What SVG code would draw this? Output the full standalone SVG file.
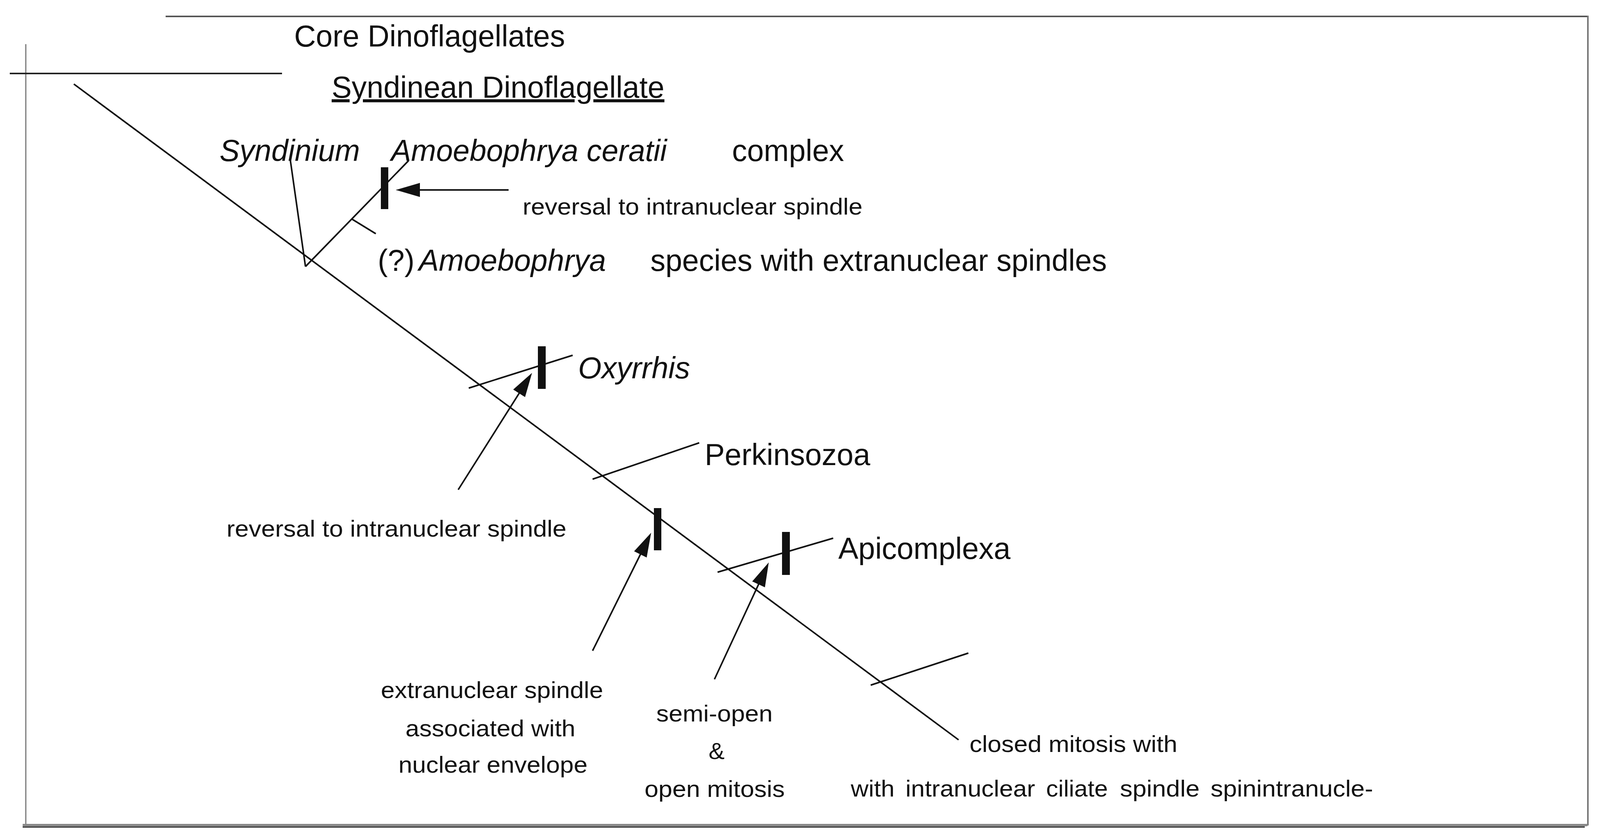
<svg xmlns="http://www.w3.org/2000/svg" width="4098" height="2139" viewBox="0 0 4098 2139">
<style>
.t{font-family:"Liberation Sans",Arial,sans-serif;fill:#111}
.big{font-size:77px}
.it{font-style:italic}
.sm{font-size:59px}
.ln{stroke:#111;stroke-width:4;fill:none;stroke-linecap:butt}
.ar{stroke:#111;stroke-width:4;fill:none;marker-end:url(#ah)}
.bar{fill:#111}
</style>
<defs>
<marker id="ah" markerUnits="userSpaceOnUse" markerWidth="62" markerHeight="38" viewBox="0 -19 62 38" refX="52" refY="0" orient="auto">
<path d="M0,-18 L62,0 L0,18 z" fill="#111"/>
</marker>
</defs>
<rect width="4098" height="2139" fill="#fff"/>
<g id="frame">
<line x1="424" y1="42" x2="4066" y2="42" stroke="#555" stroke-width="4"/>
<line x1="4065" y1="40" x2="4065" y2="2112" stroke="#777" stroke-width="4"/>
<line x1="66" y1="113" x2="66" y2="2110" stroke="#888" stroke-width="3.5"/>
<line x1="58" y1="2111" x2="4064" y2="2111" stroke="#888" stroke-width="6"/>
<line x1="58" y1="2116" x2="4057" y2="2116" stroke="#222" stroke-width="3"/>
<line x1="25" y1="188" x2="722" y2="188" stroke="#222" stroke-width="4"/>
</g>
<g id="connectors">
<line class="ln" x1="189" y1="215" x2="2454" y2="1893"/>
<line class="ln" x1="743" y1="408" x2="782" y2="682"/>
<line class="ln" x1="782" y1="682" x2="1046" y2="411"/>
<line class="ln" x1="900" y1="560" x2="962" y2="598"/>
<line class="ln" x1="1200" y1="993" x2="1466" y2="909"/>
<line class="ln" x1="1517" y1="1226" x2="1790" y2="1133"/>
<line class="ln" x1="1837" y1="1464" x2="2133" y2="1377"/>
<line class="ln" x1="2229" y1="1753" x2="2479" y2="1671"/>
<line class="ar" x1="1302" y1="486" x2="1023" y2="486"/>
<line class="ar" x1="1173" y1="1253" x2="1356.7" y2="962.5"/>
<line class="ar" x1="1517" y1="1665" x2="1662.5" y2="1372"/>
<line class="ar" x1="1829" y1="1738" x2="1963.8" y2="1448.1"/>
</g>
<g id="marks">
<rect id="bar-amoebophrya" class="bar" x="975" y="428" width="19" height="107"/>
<rect id="bar-oxyrrhis" class="bar" x="1377" y="886" width="20" height="109"/>
<rect id="bar-extranuclear" class="bar" x="1674" y="1300" width="19" height="108"/>
<rect id="bar-apicomplexa" class="bar" x="2002" y="1361" width="20" height="110"/>
</g>
<g id="node-core"><text class="t big" x="753" y="119">Core Dinoflagellates</text></g>
<g id="node-syndinean"><text class="t big" x="849" y="250" text-decoration="underline">Syndinean Dinoflagellate</text></g>
<g id="node-syndinium"><text class="t big it" x="562" y="412">Syndinium</text></g>
<g id="node-amoebophrya-ceratii"><text class="t big it" x="1001" y="412">Amoebophrya ceratii</text><text class="t big" x="1874" y="412">complex</text></g>
<g id="label-reversal-top"><text class="t sm" x="1338" y="549" textLength="870" lengthAdjust="spacingAndGlyphs">reversal to intranuclear spindle</text></g>
<g id="node-amoebophrya-sp"><text class="t big" x="967" y="693">(?)</text><text class="t big it" x="1072" y="693">Amoebophrya</text><text class="t big" x="1665" y="693">species with extranuclear spindles</text></g>
<g id="node-oxyrrhis"><text class="t big it" x="1480" y="968">Oxyrrhis</text></g>
<g id="node-perkinsozoa"><text class="t big" x="1804" y="1190">Perkinsozoa</text></g>
<g id="node-apicomplexa"><text class="t big" x="2146" y="1430">Apicomplexa</text></g>
<g id="label-reversal-low"><text class="t sm" x="580" y="1373" textLength="870" lengthAdjust="spacingAndGlyphs">reversal to intranuclear spindle</text></g>
<g id="label-extranuclear">
<text class="t sm" x="975" y="1786" textLength="569" lengthAdjust="spacingAndGlyphs">extranuclear spindle</text>
<text class="t sm" x="1038" y="1884" textLength="435" lengthAdjust="spacingAndGlyphs">associated with</text>
<text class="t sm" x="1020" y="1977" textLength="484" lengthAdjust="spacingAndGlyphs">nuclear envelope</text>
</g>
<g id="label-semiopen">
<text class="t sm" x="1680" y="1846" textLength="298" lengthAdjust="spacingAndGlyphs">semi-open</text>
<text class="t sm" x="1814" y="1942" textLength="41" lengthAdjust="spacingAndGlyphs">&amp;</text>
<text class="t sm" x="1650" y="2039" textLength="359" lengthAdjust="spacingAndGlyphs">open mitosis</text>
</g>
<g id="label-closed">
<text class="t sm" x="2482" y="1924" textLength="532" lengthAdjust="spacingAndGlyphs">closed mitosis with</text>
<text class="t sm" y="2038"><tspan x="2178" textLength="112" lengthAdjust="spacingAndGlyphs">with</tspan> <tspan x="2318" textLength="332" lengthAdjust="spacingAndGlyphs">intranuclear</tspan> <tspan x="2678" textLength="158" lengthAdjust="spacingAndGlyphs">ciliate</tspan> <tspan x="2867" textLength="204" lengthAdjust="spacingAndGlyphs">spindle</tspan> <tspan x="3099" textLength="416" lengthAdjust="spacingAndGlyphs">spinintranucle-</tspan></text>
</g>
</svg>
